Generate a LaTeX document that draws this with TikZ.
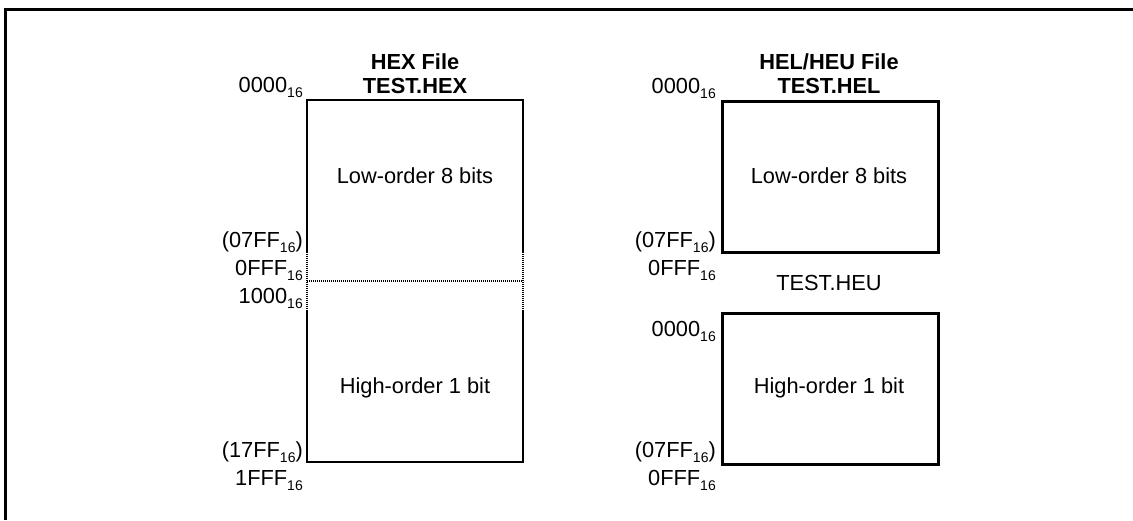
\documentclass[tikz,border=0pt]{standalone}
\usepackage{fontspec}
\setmainfont{Liberation Sans}
\newcommand{\hx}[1]{#1\raisebox{-0.25em}{\fontsize{14}{14}\selectfont 16}}
\begin{document}
\begin{tikzpicture}[x=1pt,y=-1pt,
  every node/.style={font=\fontsize{21.8}{24}\selectfont, inner sep=0pt},
  addr/.style={anchor=base east},
  ttl/.style={anchor=base, font=\fontsize{21.8}{24}\selectfont\bfseries},
  txt/.style={anchor=base},
  boxline/.style={line width=2.6pt},
  dotline/.style={line width=2.2pt, dash pattern=on 1pt off 1pt},
  memblock/.style={draw, line width=2.6pt, minimum width=216pt, minimum height=151pt, anchor=north west}]
\useasboundingbox (0,0) rectangle (1133,520);
% frame
\draw[line width=3pt] (5,520) -- (5,9) -- (1133,9);

% ---------- HEX file ----------
\coordinate (xTL) at (307,100);
\coordinate (xTR) at (523,100);
\coordinate (xBL) at (307,462);
\coordinate (xBR) at (523,462);
\coordinate (xL1) at (307,252);
\coordinate (xR1) at (523,252);
\coordinate (xL2) at (307,310);
\coordinate (xR2) at (523,310);
\coordinate (xLm) at (307,281);
\coordinate (xRm) at (523,281);
\draw[boxline] (xL1) -- (xTL) -- (xTR) -- (xR1);
\draw[boxline] (xL2) -- (xBL) -- (xBR) -- (xR2);
\draw[dotline] (xL1) -- (xL2);
\draw[dotline] (xR1) -- (xR2);
\draw[line width=1.6pt, dash pattern=on 1pt off 1pt] (xLm) -- (xRm);

\node[ttl] (hexfile) at (415,69) {HEX File};
\node[ttl] (hexname) at (415,93) {TEST.HEX};
\node[txt] (hexlow) at (415,183) {Low-order 8 bits};
\node[txt] (hexhigh) at (415,393) {High-order 1 bit};
\node[addr] (a1) at (303,92) {\hx{0000}};
\node[addr] (a2) at (303,247) {(\hx{07FF})};
\node[addr] (a3) at (303,275) {\hx{0FFF}};
\node[addr] (a4) at (303,303) {\hx{1000}};
\node[addr] (a5) at (303,457) {(\hx{17FF})};
\node[addr] (a6) at (303,485) {\hx{1FFF}};

% ---------- HEL/HEU files ----------
\node[memblock] (hel) at (721,100) {};
\node[memblock] (heu) at (721,312) {};
\node[ttl] (helfile) at (829,69) {HEL/HEU File};
\node[ttl] (helname) at (829,93) {TEST.HEL};
\node[txt] (hellow) at (829,183) {Low-order 8 bits};
\node[txt] (heuname) at (829,290) {TEST.HEU};
\node[txt] (heuhigh) at (829,393) {High-order 1 bit};
\node[addr] (b1) at (716,93) {\hx{0000}};
\node[addr] (b2) at (716,247) {(\hx{07FF})};
\node[addr] (b3) at (716,275) {\hx{0FFF}};
\node[addr] (b4) at (716,336) {\hx{0000}};
\node[addr] (b5) at (716,457) {(\hx{07FF})};
\node[addr] (b6) at (716,485) {\hx{0FFF}};
\end{tikzpicture}
\end{document}
